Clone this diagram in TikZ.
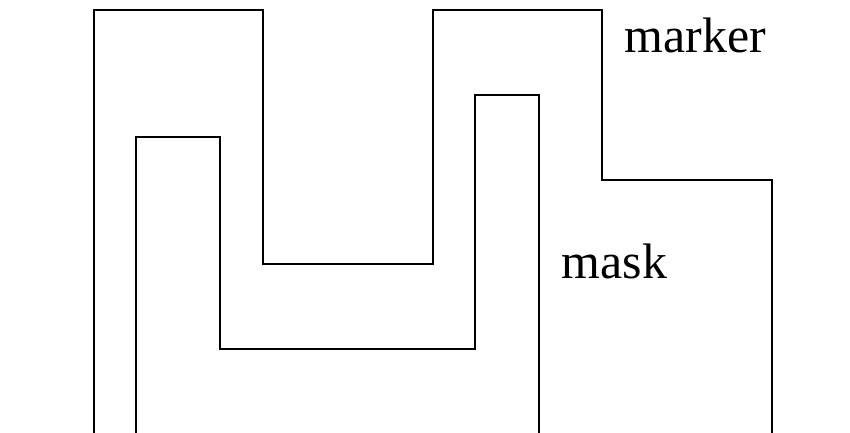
\documentclass[tikz,border=0pt]{standalone}
\usepackage{fontspec}
\setmainfont{Liberation Serif}
\usepackage{tikz}

\begin{document}
\begin{tikzpicture}[
		x=0.02cm, y=-0.02cm,
		line width=1.1pt,
		outline/.style = {draw, line join=miter},
		label/.style = {anchor=base west, inner sep=0pt, font=\fontsize{28.4}{34}\selectfont}
		]
		
		\useasboundingbox (0,0) rectangle (850,433);
		
		% outer shape
		\draw[outline] (94,440) -- (94,10) -- (263,10) -- (263,264) -- (433,264) -- (433,10)
			-- (602,10) -- (602,180) -- (772,180) -- (772,440);
		% inner shape
		\draw[outline] (136,440) -- (136,137) -- (220,137) -- (220,349) -- (475,349) -- (475,95)
			-- (539,95) -- (539,440);
		
		\node[label] (marker) at (624,52) {marker};
		\node[label] (mask) at (561,278) {mask};
	\end{tikzpicture}
\end{document}
